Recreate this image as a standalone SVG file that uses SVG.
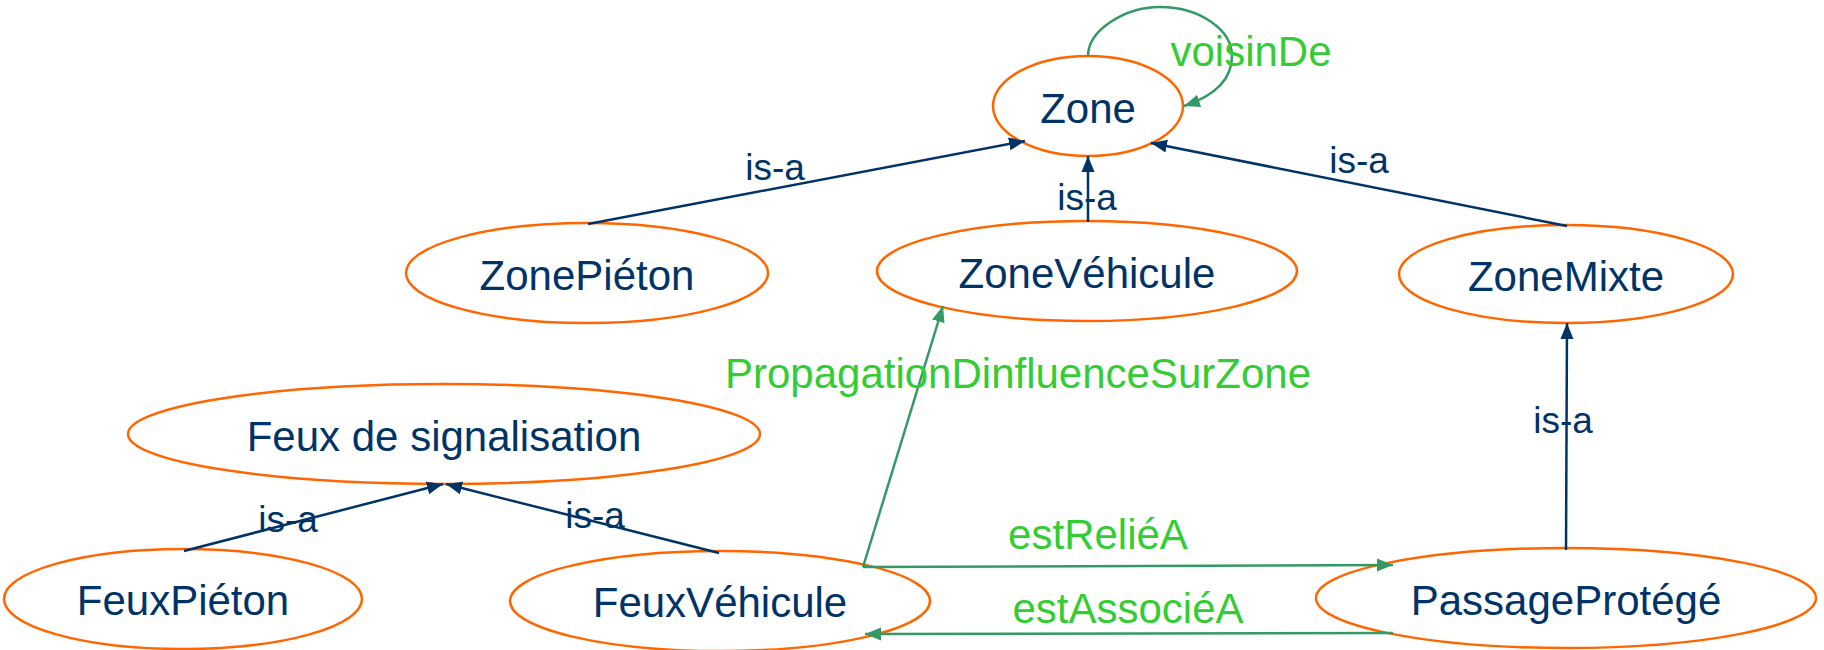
<svg xmlns="http://www.w3.org/2000/svg" width="1824" height="650" viewBox="0 0 1824 650">
<style>
.node ellipse{fill:#fff;stroke:#ff6600;stroke-width:2.5}
.node text{font-family:"Liberation Sans",Arial,sans-serif;font-size:42px;fill:#003366;text-anchor:middle}
.isa{stroke:#003366;stroke-width:2.5;fill:none;marker-end:url(#ab)}
.rel{stroke:#339966;stroke-width:2.5;fill:none;marker-end:url(#ag)}
.lisa{font-family:"Liberation Sans",Arial,sans-serif;font-size:37px;fill:#003366;text-anchor:middle}
.lrel{font-family:"Liberation Sans",Arial,sans-serif;font-size:42px;fill:#33cc33;text-anchor:middle}
</style>
<defs>
<marker id="ab" viewBox="0 -7 16 14" refX="16" refY="0" markerWidth="16" markerHeight="14" markerUnits="userSpaceOnUse" orient="auto"><path d="M0,-6.5 L16,0 L0,6.5 z" fill="#003366"/></marker>
<marker id="ag" viewBox="0 -7 16 14" refX="16" refY="0" markerWidth="16" markerHeight="14" markerUnits="userSpaceOnUse" orient="auto"><path d="M0,-6.5 L16,0 L0,6.5 z" fill="#339966"/></marker>
</defs>
<rect width="1824" height="650" fill="#fff"/>
<g id="n-zone" class="node"><ellipse cx="1088" cy="106" rx="95" ry="50"/><text x="1088" y="123">Zone</text></g>
<g id="n-zonepieton" class="node"><ellipse cx="587" cy="273" rx="181" ry="50"/><text x="587" y="290">ZonePiéton</text></g>
<g id="n-zonevehicule" class="node"><ellipse cx="1087" cy="271" rx="210" ry="50"/><text x="1087" y="288">ZoneVéhicule</text></g>
<g id="n-zonemixte" class="node"><ellipse cx="1566" cy="274" rx="167" ry="49"/><text x="1566" y="291">ZoneMixte</text></g>
<g id="n-feux" class="node"><ellipse cx="444" cy="434" rx="316" ry="50"/><text x="444" y="451">Feux de signalisation</text></g>
<g id="n-feuxpieton" class="node"><ellipse cx="183" cy="599" rx="179" ry="50"/><text x="183" y="615">FeuxPiéton</text></g>
<g id="n-feuxvehicule" class="node"><ellipse cx="720" cy="601" rx="210" ry="50"/><text x="720" y="617">FeuxVéhicule</text></g>
<g id="n-passage" class="node"><ellipse cx="1566" cy="598" rx="250" ry="50"/><text x="1566" y="615">PassageProtégé</text></g>
<g id="connectors">
<line class="isa" x1="588" y1="224" x2="1025" y2="141"/>
<line class="isa" x1="1088" y1="222" x2="1088" y2="156"/>
<line class="isa" x1="1567" y1="226" x2="1151" y2="143"/>
<line class="isa" x1="184" y1="551" x2="443" y2="484"/>
<line class="isa" x1="719" y1="553" x2="446" y2="484"/>
<line class="isa" x1="1566" y1="550" x2="1567" y2="323"/>
<line class="rel" x1="863" y1="567" x2="943" y2="306"/>
<line class="rel" x1="863" y1="567" x2="1393" y2="565"/>
<line class="rel" x1="1393" y1="633" x2="865" y2="634"/>
<path class="rel" d="M1088,56 C1088,30 1125,7 1160,7 C1200,7 1232,30 1232,56 C1232,80 1214,96 1184,106"/>
<text class="lisa" x="775" y="180">is-a</text>
<text class="lisa" x="1087" y="210">is-a</text>
<text class="lisa" x="1359" y="173">is-a</text>
<text class="lisa" x="1563" y="433">is-a</text>
<text class="lisa" x="288" y="532">is-a</text>
<text class="lisa" x="595" y="528">is-a</text>
<text class="lrel" x="1251" y="66">voisinDe</text>
<text class="lrel" x="1018" y="388">PropagationDinfluenceSurZone</text>
<text class="lrel" x="1098" y="549">estReliéA</text>
<text class="lrel" x="1128" y="623">estAssociéA</text>
</g>
</svg>
